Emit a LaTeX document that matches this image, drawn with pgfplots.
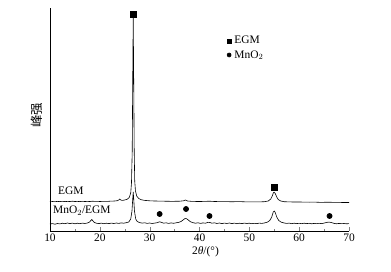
\documentclass[border=0pt]{standalone}
\usepackage{pgfplots}
\pgfplotsset{compat=1.18}
\usepackage{fontspec}
\setmainfont{Liberation Serif}
\newfontfamily\cjk{Noto Sans CJK SC}
\newcommand\fs{\fontsize{11.5}{13.5}\selectfont}
\begin{document}
\begin{tikzpicture}
\path[use as bounding box] (-50bp,-41bp) rectangle (341bp,231bp);
\begin{axis}[
  scale only axis, width=299bp, height=223bp,
  xmin=10, xmax=70, ymin=0, ymax=223,
  axis x line*=bottom, axis y line*=left,
  xtick={10,20,...,70}, minor x tick num=1,
  ytick=\empty,
  tick align=inside,
  major tick length=4bp, minor tick length=2.5bp,
  every axis/.append style={line width=0.6bp},
  tick label style={font=\fs},
  label style={font=\fs},
  /pgf/number format/assume math mode=true,
  xticklabel style={yshift=1bp},
  xlabel={2\textit{θ}/(°)},
  xlabel style={yshift=2bp, xshift=6bp},
  ylabel={\cjk\fontsize{12.5}{14}\selectfont 峰强},
  ylabel style={at={(axis description cs:-0.044,0.52)}, anchor=center},
  legend style={draw=none, fill=none, at={(axis description cs:0.587,0.883)}, anchor=north west,
    font=\fs, row sep=1bp, inner sep=0bp},
  legend cell align=left,
  legend image code/.code={\path (-1bp,0bp) (5bp,0bp); \draw[#1,mark size=2bp] plot coordinates {(2bp,0bp)};},
]
\addplot[black, line width=0.6bp, forget plot] coordinates {
(10,29.2)(10.5,29.5)(11,29.3)(11.5,29.6)(12,29.4)(12.5,29.7)(13,29.4)(13.5,29.6)(14,29.5)(14.5,29.8)
(15,29.5)(15.5,29.6)(16,29.4)(16.5,29.7)(17,29.5)(17.5,29.6)(18,29.5)(18.5,29.8)(19,29.6)(19.5,29.7)
(20,29.5)(20.5,29.6)(21,29.7)(21.5,29.6)(22,29.8)(22.5,29.9)(23,30.0)(23.5,30.3)(23.8,31.0)(24.0,32.0)
(24.2,31.0)(24.5,30.6)(25.0,31.0)(25.5,31.8)(25.9,33.5)(26.2,38)(26.35,48)(26.5,80)(26.6,150)(26.7,214)
(26.8,150)(26.9,80)(27.0,50)(27.15,40)(27.4,35)(27.8,32.5)(28.3,31.3)(29,30.6)(30,30.2)(31,30.0)
(32,29.9)(33,29.8)(34,29.7)(35,29.7)(36,29.8)(36.8,30.2)(37.2,31.0)(37.6,30.0)(38.5,29.6)(40,29.5)
(41,29.6)(42,29.8)(43,29.5)(44,29.4)(45,29.4)(46,29.3)(47,29.3)(48,29.4)(49,29.2)(50,29.2)
(51,29.1)(52,29.1)(53,29.3)(53.8,30.0)(54.3,32)(54.6,35)(54.85,38.5)(55.0,38.8)(55.2,37.5)(55.5,34)
(55.8,31.5)(56.3,30)(57,29.3)(58,29.1)(59,29.0)(60,29.0)(61,28.9)(62,28.8)(63,28.9)(64,28.7)
(65,28.7)(66,28.8)(67,28.6)(68,28.6)(69,28.5)(70,28.5)
};
\addplot[black, line width=0.6bp, forget plot] coordinates {
(10,7.0)(10.5,7.4)(11,6.8)(11.5,7.5)(12,7.1)(12.5,7.8)(13,7.3)(13.5,8.0)(14,7.4)(14.5,7.9)
(15,7.2)(15.5,7.8)(16,7.3)(16.5,7.9)(17,7.5)(17.5,8.0)(17.9,8.8)(18.2,10.5)(18.4,11.5)(18.6,10.2)
(18.9,8.5)(19.3,7.8)(19.8,7.4)(20.3,7.9)(20.8,7.3)(21.3,7.8)(21.8,7.4)(22.3,7.9)(22.8,7.5)(23.3,8.0)
(23.8,7.6)(24.3,8.1)(24.8,7.8)(25.3,8.3)(25.8,9.0)(26.2,12)(26.45,20)(26.6,32)(26.7,39)(26.8,32)
(26.95,20)(27.2,12)(27.5,9.5)(28,8.4)(28.5,7.9)(29,8.2)(29.5,7.6)(30,8.0)(30.5,7.5)(31,7.9)
(31.5,8.3)(32,9.2)(32.4,8.6)(32.8,7.8)(33.3,8.2)(33.8,7.6)(34.3,8.1)(34.8,7.7)(35.3,8.2)(35.8,8.6)
(36.3,9.5)(36.7,11.0)(37.1,12.5)(37.4,12.3)(37.8,10.8)(38.2,9.2)(38.7,8.3)(39.2,7.8)(39.7,8.2)(40.2,7.6)
(40.7,8.1)(41.2,7.8)(41.7,8.7)(42.1,8.5)(42.5,7.8)(43,8.2)(43.5,7.5)(44,8.0)(44.5,7.4)(45,7.9)
(45.5,7.5)(46,8.0)(46.5,7.4)(47,7.9)(47.5,7.3)(48,7.8)(48.5,7.4)(49,7.9)(49.5,7.5)(50,7.8)
(50.5,7.3)(51,7.7)(51.5,7.4)(52,7.9)(52.5,7.6)(53,8.0)(53.6,8.8)(54.1,10.5)(54.5,14)(54.8,19)
(55.0,20)(55.2,18.5)(55.5,14)(55.9,10.5)(56.4,8.8)(57,8.0)(57.5,7.6)(58,7.9)(58.5,7.3)(59,7.8)
(59.5,7.4)(60,7.7)(60.5,7.3)(61,7.8)(61.5,7.4)(62,7.7)(62.5,7.2)(63,7.6)(63.5,7.3)(64,7.7)
(64.5,7.4)(65,7.9)(65.5,8.6)(66,8.9)(66.5,8.4)(67,7.6)(67.5,7.2)(68,7.6)(68.5,7.3)(69,7.5)
(69.5,7.2)(70,7.4)
};
\addplot[only marks, mark=square*, mark size=3bp, black] coordinates {(26.7,217)(55,44)};
\addlegendentry{EGM}
\addplot[only marks, mark=*, mark size=2.6bp, black] coordinates {(32,17)(37.3,22)(42,15)(66.1,15)};
\addlegendentry{MnO$_2$}
\node[font=\fs] at (axis cs:14.2,40) {EGM};
\node[font=\fs] at (axis cs:16.4,20) {MnO$_2$/EGM};
\end{axis}
\end{tikzpicture}
\end{document}
